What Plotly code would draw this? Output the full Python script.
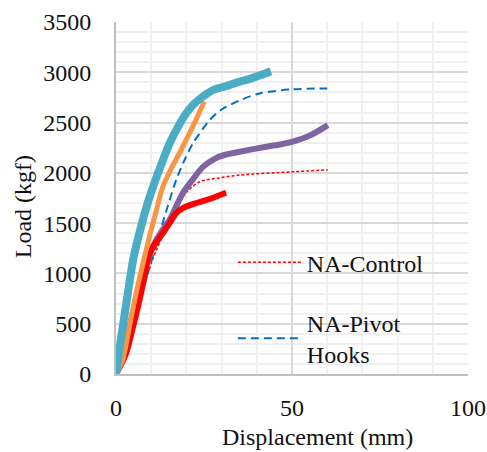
import plotly.graph_objects as go

# Data (Displacement mm, Load kgf)
cyan_x = [0, 1, 3, 5, 7, 9, 10.5, 12.5, 15.2, 17.5, 19.9, 22, 24.7, 28, 31, 35, 38, 41, 44]
cyan_y = [0, 250, 720, 1160, 1450, 1700, 1860, 2050, 2290, 2450, 2590, 2680, 2760, 2830, 2860, 2905, 2935, 2970, 3010]

orange_x = [0, 1.9, 3.8, 5.7, 7.6, 9.5, 11.4, 13.3, 15.5, 18, 21.8, 25.1]
orange_y = [0, 140, 470, 800, 1090, 1365, 1620, 1860, 2030, 2195, 2460, 2710]

pivot_x = [0, 3, 6, 9, 12.4, 14.8, 17.1, 19.5, 21.8, 26.6, 30, 35.1, 40.8, 50, 60]
pivot_y = [0, 300, 650, 1000, 1400, 1680, 1930, 2130, 2290, 2525, 2630, 2720, 2790, 2830, 2840]

purple_x = [0, 2, 3.8, 5.7, 7.6, 10.5, 13, 15.2, 17, 19, 21.5, 24.7, 28, 31, 35.1, 42.7, 47, 50.2, 55, 60.2]
purple_y = [0, 200, 470, 730, 970, 1265, 1420, 1530, 1660, 1800, 1920, 2060, 2140, 2180, 2210, 2260, 2285, 2310, 2370, 2475]

control_x = [0, 5, 10, 15, 19.9, 23.7, 29.4, 35.1, 50, 60.2]
control_y = [0, 500, 1100, 1500, 1800, 1910, 1950, 1978, 2010, 2030]

red_x = [0, 1.5, 2.9, 4.5, 6.7, 8, 9.5, 11.4, 13.3, 15.2, 17.1, 19, 22.8, 26.6, 30.3, 31.3]
red_y = [0, 100, 210, 420, 740, 950, 1200, 1310, 1400, 1500, 1600, 1650, 1700, 1740, 1790, 1800]

x_ticks = [0, 50, 100]
y_ticks = [0, 500, 1000, 1500, 2000, 2500, 3000, 3500]

FONT = "Liberation Serif"

fig = go.Figure()
fig.add_trace(go.Scatter(x=control_x, y=control_y, mode="lines", name="NA-Control",
                         line=dict(color="#ff0000", width=1.5, dash="3px,2px", shape="spline", smoothing=0.8),
                         legendgroup="a"))
fig.add_trace(go.Scatter(x=pivot_x, y=pivot_y, mode="lines", name="NA-Pivot<br>Hooks",
                         line=dict(color="#0070c0", width=2, dash="8px,5px", shape="spline", smoothing=0.8),
                         legendgroup="b"))
fig.add_trace(go.Scatter(x=purple_x, y=purple_y, mode="lines", showlegend=False,
                         line=dict(color="#8064a2", width=6, shape="spline", smoothing=0.8)))
fig.add_trace(go.Scatter(x=red_x, y=red_y, mode="lines", showlegend=False,
                         line=dict(color="#ff0000", width=6, shape="spline", smoothing=0.8)))
fig.add_trace(go.Scatter(x=orange_x, y=orange_y, mode="lines", showlegend=False,
                         line=dict(color="#f79646", width=5, shape="spline", smoothing=0.8)))
fig.add_trace(go.Scatter(x=cyan_x, y=cyan_y, mode="lines", showlegend=False,
                         line=dict(color="#4bacc6", width=8, shape="spline", smoothing=0.8)))

fig.update_layout(
    width=487, height=452,
    margin=dict(l=116, r=19, t=22, b=78, autoexpand=False),
    paper_bgcolor="white", plot_bgcolor="white",
    font=dict(family=FONT, size=24, color="#111111"),
    legend=dict(x=0.332, y=0.38, xanchor="left", yanchor="top",
                bgcolor="rgba(0,0,0,0)", font=dict(size=24, family=FONT),
                tracegroupgap=26, traceorder="grouped", itemwidth=64),
    xaxis=dict(range=[0, 100], tickvals=x_ticks, ticklabelstandoff=11, automargin=False,
               showgrid=True, gridcolor="#d9d9d9", gridwidth=1.5,
               minor=dict(dtick=10, showgrid=True, gridcolor="#f0f0f0", gridwidth=1.5),
               showline=True, linecolor="#c0c0c0", linewidth=2,
               zeroline=False, ticks=""),
    yaxis=dict(range=[0, 3500], tickvals=y_ticks, ticklabelstandoff=18, automargin=False,
               showgrid=True, gridcolor="#d9d9d9", gridwidth=1.5,
               minor=dict(dtick=100, showgrid=True, gridcolor="#f0f0f0", gridwidth=1.5),
               showline=True, linecolor="#c0c0c0", linewidth=2,
               zeroline=False, ticks=""),
    annotations=[
        dict(text="Displacement (mm)", xref="paper", yref="paper", x=0.572, y=-0.179,
             xanchor="center", yanchor="middle", showarrow=False, font=dict(size=24)),
        dict(text="Load (kgf)", xref="paper", yref="paper", x=-0.264, y=0.474,
             xanchor="center", yanchor="middle", showarrow=False, textangle=-90,
             font=dict(size=24)),
    ],
)

fig.write_html("out.html", config={"displayModeBar": False},
               post_script="document.body.style.margin='0';document.body.style.overflow='hidden';")
